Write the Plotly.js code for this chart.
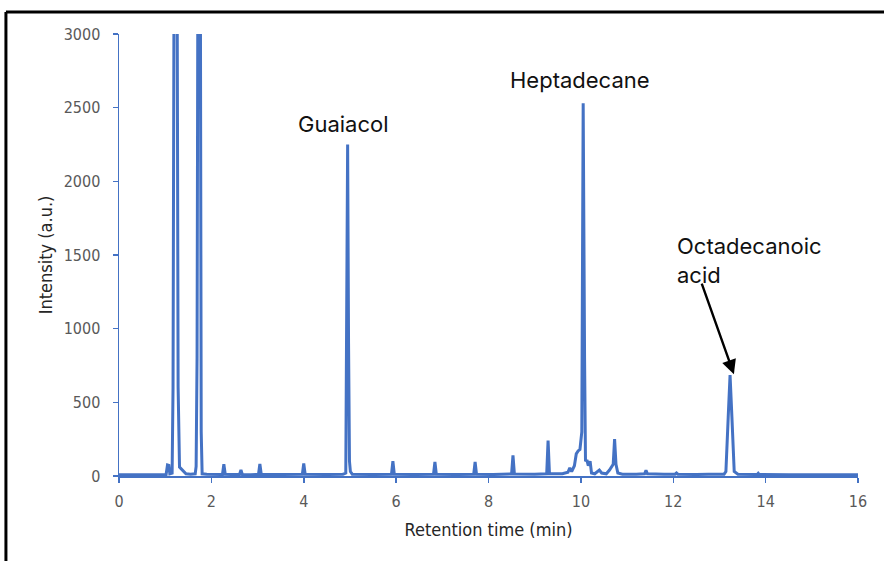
<!DOCTYPE html>
<html>
<head>
<meta charset="utf-8">
<script src="https://cdn.plot.ly/plotly-3.0.1.min.js"></script>
<style>
html,body{margin:0;padding:0;background:#fff;}
#chart{width:884px;height:561px;}
</style>
</head>
<body>
<div id="chart"></div>
<script>
// Retention time (min)
const times = [
  0.00, 0.50, 0.90, 1.02, 1.05, 1.08, 1.10, 1.15, 1.17, 1.20, 1.25, 1.28, 1.31, 1.35, 1.40, 1.45,
  1.55, 1.65, 1.67, 1.69, 1.715, 1.755, 1.78, 1.80, 1.90, 2.00, 2.10, 2.24, 2.27, 2.30, 2.45,
  2.61, 2.64, 2.67, 2.85, 3.02, 3.05, 3.08, 3.50, 3.97, 4.00, 4.03, 4.50, 4.85, 4.91, 4.93,
  4.95, 4.97, 4.99, 5.01, 5.05, 5.50, 5.90, 5.93, 5.96, 6.40, 6.81, 6.84, 6.87, 7.30, 7.68,
  7.71, 7.74, 8.10, 8.50, 8.53, 8.56, 9.00, 9.26, 9.29, 9.32, 9.60, 9.72, 9.76, 9.80, 9.86,
  9.90, 9.94, 9.98, 10.02, 10.05, 10.08, 10.10, 10.13, 10.16, 10.20, 10.23, 10.30, 10.40, 10.45,
  10.55, 10.62, 10.66, 10.70, 10.73, 10.76, 10.80, 10.90, 11.20, 11.38, 11.41, 11.44, 11.80,
  12.04, 12.07, 12.10, 12.50, 12.68, 12.72, 12.76, 13.10, 13.14, 13.19, 13.23, 13.27, 13.32,
  13.40, 13.82, 13.84, 13.86, 14.50, 15.00, 16.00
];
// Intensity (a.u.)
const intensity = [
  8, 8, 9, 10, 75, 72, 15, 20, 600, 4500, 4500, 600, 60, 45, 30, 15,
  12, 15, 65, 800, 4500, 4500, 300, 15, 12, 10, 9, 10, 80, 12, 10,
  10, 42, 10, 9, 10, 82, 10, 10, 12, 85, 12, 10, 12, 20, 1000,
  2250, 900, 100, 30, 12, 10, 12, 100, 12, 10, 12, 95, 12, 10, 12,
  95, 12, 10, 14, 140, 14, 12, 15, 240, 15, 15, 25, 55, 30, 70,
  150, 170, 180, 300, 2530, 800, 100, 110, 70, 100, 20, 15, 40, 20,
  15, 40, 60, 80, 250, 80, 20, 12, 12, 15, 38, 15, 12,
  12, 20, 12, 10, 12, 15, 12, 12, 30, 400, 685, 400, 30,
  12, 10, 18, 10, 8, 8, 8
];

const xTicks = [0, 2, 4, 6, 8, 10, 12, 14, 16];
const yTicks = [0, 500, 1000, 1500, 2000, 2500, 3000];

const peakLabels = ["Guaiacol", "Heptadecane", "Octadecanoic<br>acid"];

const blue = "#4472C4";
const narrow = "Liberation Sans Narrow, DejaVu Sans Condensed, Arial Narrow, sans-serif";
const tickFont = {family: narrow, size: 16, color: "#595959"};
const titleFont = {family: narrow, size: 18, color: "#262626"};
const annFont = {family: "Inter, Open Sans, sans-serif", size: 22, color: "#111"};

const trace = {
  x: times, y: intensity, type: "scatter", mode: "lines",
  line: {color: blue, width: 3, shape: "linear"},
  hoverinfo: "x+y"
};

const layout = {
  width: 884, height: 561,
  margin: {l: 119, r: 26, t: 34, b: 85},
  paper_bgcolor: "#fff", plot_bgcolor: "#fff",
  showlegend: false,
  xaxis: {
    range: [0, 16], tickvals: xTicks, ticktext: xTicks.map(String),
    showgrid: false, zeroline: false, showline: true, linecolor: blue, linewidth: 1.5,
    ticks: "outside", ticklen: 5, tickcolor: blue, tickwidth: 1.5,
    tickfont: tickFont, ticklabelstandoff: 5,
    title: {text: "Retention time (min)", font: titleFont, standoff: 13}
  },
  yaxis: {
    range: [0, 3000], tickvals: yTicks, ticktext: yTicks.map(String),
    showgrid: false, zeroline: false, showline: true, linecolor: blue, linewidth: 1.5,
    ticks: "outside", ticklen: 5, tickcolor: blue, tickwidth: 1.5,
    tickfont: tickFont, ticklabelstandoff: 9,
    title: {text: "Intensity (a.u.)", font: titleFont, standoff: 6}
  },
  annotations: [
    {x: times[46], y: 2250, xref: "x", yref: "y", text: peakLabels[0], showarrow: false,
     yanchor: "bottom", yshift: 6, xshift: -4, font: annFont},
    {x: times[80], y: 2530, xref: "x", yref: "y", text: peakLabels[1], showarrow: false,
     yanchor: "bottom", yshift: 8, xshift: -3, font: annFont},
    {x: times[115], y: 685, xref: "x", yref: "y", text: "", showarrow: true,
     arrowhead: 2, arrowsize: 1.2, arrowwidth: 2.4, arrowcolor: "#000",
     ax: -33, ay: -93, standoff: 1},
    {x: 12.04, y: 1660, xref: "x", yref: "y", text: peakLabels[2], showarrow: false,
     xanchor: "left", yanchor: "top", align: "left", font: annFont}
  ],
  shapes: [
    {type: "line", xref: "paper", yref: "paper", x0: -0.153, x1: 1.04, y0: 1.05, y1: 1.05,
     line: {color: "#000", width: 3}},
    {type: "line", xref: "paper", yref: "paper", x0: -0.153, x1: -0.153, y0: 1.05, y1: -0.2,
     line: {color: "#000", width: 3}}
  ]
};

Plotly.newPlot("chart", [trace], layout, {displayModeBar: false, staticPlot: true});
</script>
</body>
</html>
